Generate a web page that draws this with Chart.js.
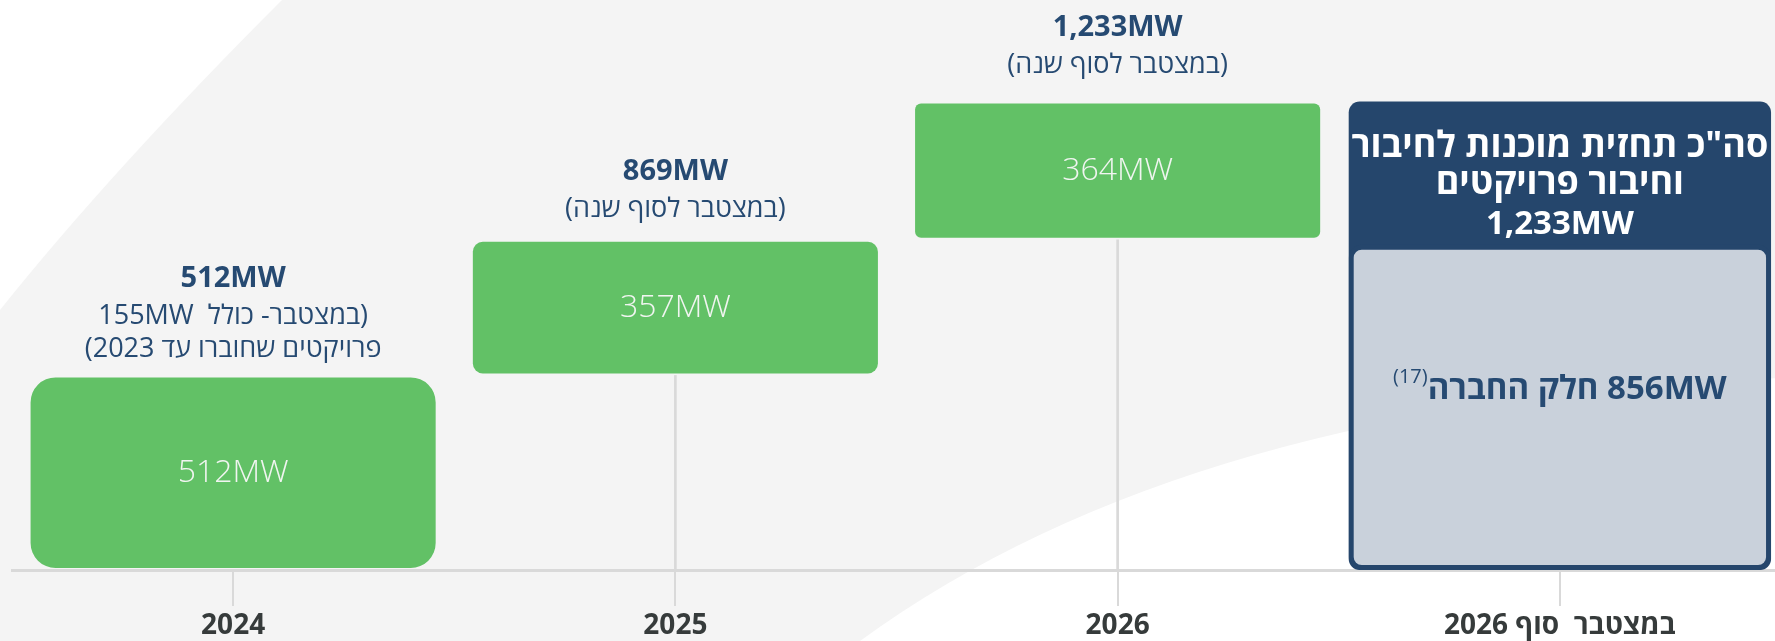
<!DOCTYPE html>
<html lang="he">
<head>
<meta charset="utf-8">
<title>תחזית מוכנות לחיבור</title>
<script src="https://cdn.jsdelivr.net/npm/chart.js@4.4.0/dist/chart.umd.min.js"></script>
<style>
  html, body { margin: 0; padding: 0; background: #fff; overflow: hidden; }
  #contenedor { position: relative; width: 1781px; height: 641px; }
</style>
</head>
<body>
<div id="contenedor"><canvas id="grafico"></canvas></div>
<script>
// datos del grafico
var categorias = ['2024', '2025', '2026', 'במצטבר  סוף 2026'];
var incrementos = [512, 357, 364];      // MW que se suman cada año (verde)
var acumulado = [512, 869, 1233];       // MW acumulados a fin de año
var totalPrevisto = 1233;
var parteEmpresa = 856;

var etiquetasArriba = ['512MW', '869MW', '1,233MW'];
var notasArriba = [
    ['(במצטבר- כולל  155MW', 'פרויקטים שחוברו עד 2023)'],
    ['(במצטבר לסוף שנה)'],
    ['(במצטבר לסוף שנה)']
];
var etiquetasBarra = ['512MW', '357MW', '364MW'];
var tituloTotal = ['סה"כ תחזית מוכנות לחיבור', 'וחיבור פרויקטים', '1,233MW'];
var textoEmpresa = '856MW חלק החברה';
var notaEmpresa = '(17)';

var verde = '#62c166';
var azul = '#25466c';
var azulTexto = '#264a72';
var grisLinea = '#d9d9d9';
var fuente = '"Open Sans", "DejaVu Sans", sans-serif';

// barras flotantes armadas desde los arrays
var datosVerdes = acumulado.map(function (v, i) { return [v - incrementos[i], v]; });
datosVerdes.push(null);
var conectores = acumulado.map(function (v, i) { return [0, v - incrementos[i]]; });
conectores.push(null);
var datosTotal = [null, null, null, [0, totalPrevisto]];
var datosEmpresa = [null, null, null, [0, parteEmpresa]];

const fondo = {
    id: 'fondo',
    beforeDraw(chart) {
        const c = chart.ctx, w = chart.width, h = chart.height;
        c.save();
        c.fillStyle = '#ffffff';
        c.fillRect(0, 0, w, h);
        c.fillStyle = '#f4f4f4';
        c.beginPath();
        c.moveTo(282, 0);
        c.lineTo(w, 0);
        c.lineTo(w, 378);
        c.quadraticCurveTo(1190, 400, 860, h);
        c.lineTo(0, h);
        c.lineTo(0, 310);
        c.quadraticCurveTo(112, 170, 282, 0);
        c.fill();
        c.restore();
    }
};

const textos = {
    id: 'textos',
    afterDatasetsDraw(chart) {
        const c = chart.ctx;
        const verdes = chart.getDatasetMeta(0).data;
        const separacion = [26, 30, 36];
        c.save();
        c.textAlign = 'center';
        c.textBaseline = 'middle';
        for (let i = 0; i < etiquetasBarra.length; i++) {
            const b = verdes[i];
            c.direction = 'ltr';
            c.fillStyle = '#f1f5f1';
            c.font = '300 32px ' + fuente;
            c.fillText(etiquetasBarra[i], b.x, (b.y + b.base) / 2);

            c.direction = 'rtl';
            c.fillStyle = azulTexto;
            c.font = '400 27px ' + fuente;
            let y = b.y - separacion[i];
            const notas = notasArriba[i];
            for (let k = notas.length - 1; k >= 0; k--) {
                c.fillText(notas[k], b.x, y);
                if (k > 0) y -= 33;
            }
            c.direction = 'ltr';
            c.font = '700 29px ' + fuente;
            c.fillText(etiquetasArriba[i], b.x, y - 38);
        }

        // caja del total 2026
        const total = chart.getDatasetMeta(2).data[3];
        const emp = chart.getDatasetMeta(1).data[3];
        c.fillStyle = '#ffffff';
        c.direction = 'rtl';
        c.font = '700 36px ' + fuente;
        c.fillText(tituloTotal[0], total.x, total.y + 45);
        c.fillText(tituloTotal[1], total.x, total.y + 82);
        c.direction = 'ltr';
        c.font = '700 33px ' + fuente;
        c.fillText(tituloTotal[2], total.x, total.y + 123);

        // texto de la parte de la empresa con la nota en superindice
        c.font = '700 33px ' + fuente;
        const ancho = c.measureText(textoEmpresa).width;
        c.font = '400 20px ' + fuente;
        const anchoNota = c.measureText(notaEmpresa).width;
        const yEmp = (emp.y + emp.base) / 2 - 18;
        const inicio = emp.x - (ancho + anchoNota) / 2;
        c.fillStyle = azulTexto;
        c.textAlign = 'left';
        c.fillText(notaEmpresa, inicio, yEmp - 12);
        c.direction = 'rtl';
        c.textAlign = 'center';
        c.font = '700 33px ' + fuente;
        c.fillText(textoEmpresa, inicio + anchoNota + ancho / 2, yEmp);
        c.restore();
    }
};

const ctx = document.getElementById('grafico').getContext('2d');
new Chart(ctx, {
    type: 'bar',
    data: {
        labels: categorias,
        datasets: [
            {
                label: 'Incremento anual',
                data: datosVerdes,
                backgroundColor: verde,
                borderColor: 'rgba(0,0,0,0)',
                borderWidth: 2,
                borderSkipped: false,
                borderRadius: [27, 12, 8, 0],
                barPercentage: 0.925,
                categoryPercentage: 1,
                grouped: false
            },
            {
                label: 'Parte de la empresa',
                data: datosEmpresa,
                backgroundColor: '#c9d1db',
                borderColor: azul,
                borderWidth: 5,
                borderSkipped: false,
                borderRadius: 13,
                barPercentage: 0.955,
                categoryPercentage: 1,
                grouped: false
            },
            {
                label: 'Total previsto',
                data: datosTotal,
                backgroundColor: azul,
                borderWidth: 0,
                borderSkipped: false,
                borderRadius: 11,
                barPercentage: 0.955,
                categoryPercentage: 1,
                grouped: false
            },
            {
                label: 'Conector',
                data: conectores,
                backgroundColor: grisLinea,
                borderWidth: 0,
                barThickness: 2,
                grouped: false
            }
        ]
    },
    options: {
        responsive: true,
        maintainAspectRatio: false,
        animation: false,
        layout: { padding: { left: 12, right: 0, top: 0, bottom: -5 } },
        scales: {
            x: {
                grid: {
                    display: true,
                    drawOnChartArea: false,
                    drawTicks: true,
                    tickLength: 36,
                    color: grisLinea,
                    lineWidth: 2,
                    offset: false
                },
                border: { display: true, color: grisLinea, width: 3 },
                ticks: {
                    color: '#363b3b',
                    font: { family: fuente, size: 28, weight: 'bold', lineHeight: 1 },
                    padding: 6,
                    maxRotation: 0,
                    autoSkip: false
                }
            },
            y: {
                display: false,
                min: 0,
                max: 1500
            }
        },
        plugins: {
            legend: { display: false },
            tooltip: { enabled: false }
        }
    },
    plugins: [fondo, textos]
});
</script>
</body>
</html>
